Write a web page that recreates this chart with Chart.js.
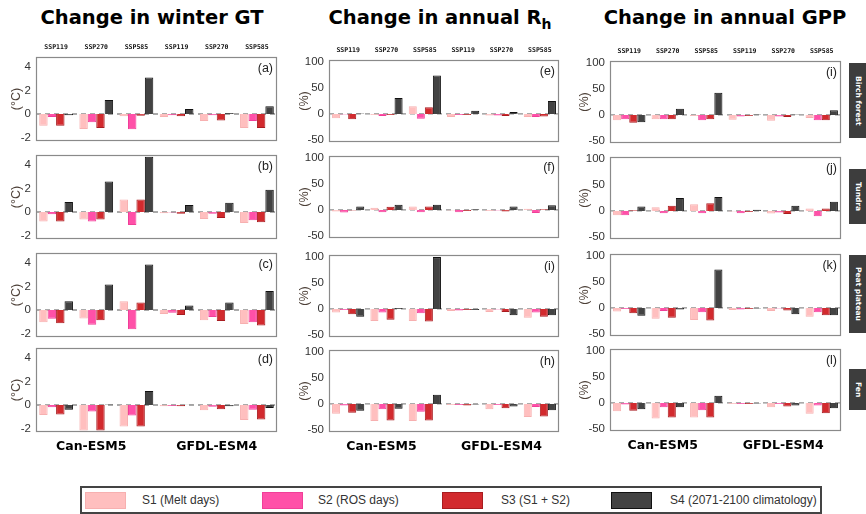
<!DOCTYPE html>
<html>
<head>
<meta charset="utf-8">
<script src="https://cdn.jsdelivr.net/npm/chart.js@4/dist/chart.umd.min.js"></script>
<style>
  html, body { margin: 0; padding: 0; background: #fff; }
  #fig { position: relative; width: 866px; height: 514px; overflow: hidden; font-family: "Liberation Sans", Arial, sans-serif; }
  #fig canvas { position: absolute; }
  .coltitle { position: absolute; top: 6px; transform: translateX(-50%); white-space: nowrap;
              font-family: "DejaVu Sans", sans-serif; font-weight: bold; font-size: 19.5px; line-height: 24px; color: #000; }
  .coltitle sub { font-size: 14px; vertical-align: -5px; line-height: 0; }
  .site { position: absolute; left: 849px; width: 18px; background: #3d3d3d; color: #fff;
          font-family: "DejaVu Sans", sans-serif; font-weight: bold; font-size: 7.5px;
          writing-mode: vertical-rl; display: flex; align-items: center; justify-content: center; }
  #legend { position: absolute; left: 80px; top: 486px; width: 738px; height: 24px; border: 2px solid #444; background: #fff; }
  .sw { position: absolute; top: 4px; width: 39px; height: 15px; }
  .lt { position: absolute; top: 4px; font-size: 12px; line-height: 16px; color: #333; white-space: nowrap; }
</style>
</head>
<body>
<div id="fig">
  <div class="coltitle" style="left:152px">Change in winter GT</div>
  <div class="coltitle" style="left:440px">Change in annual R<sub>h</sub></div>
  <div class="coltitle" style="left:725px">Change in annual GPP</div>
  <div id="legend"></div>
</div>
<script>
// Scenario groups along each panel, the two driving models, experiments and sites
const scenarios = ['SSP119', 'SSP270', 'SSP585', 'SSP119', 'SSP270', 'SSP585'];
const models = ['Can-ESM5', 'GFDL-ESM4'];
const experiments = ['S1 (Melt days)', 'S2 (ROS days)', 'S3 (S1 + S2)', 'S4 (2071-2100 climatology)'];
const sites = ['Birch forest', 'Tundra', 'Peat plateau', 'Fen'];
const gtTicks = [-2, 0, 2, 4];
const pctTicks = [-50, 0, 50, 100];

// Change in winter ground temperature (°C); rows S1..S4, columns follow scenarios
const gtBirch = [
  [-1.0, -1.28, -0.2, -0.25, -0.6, -1.2],
  [-0.25, -0.7, -1.3, -0.1, -0.1, -0.6],
  [-1.0, -1.2, -0.15, -0.2, -0.55, -1.2],
  [-0.1, 1.2, 3.1, 0.43, 0.08, 0.66]
];
const gtTundra = [
  [-0.8, -0.64, 1.07, -0.1, -0.6, -0.93],
  [-0.2, -0.8, -1.1, -0.05, -0.15, -0.7],
  [-0.8, -0.64, 1.07, -0.15, -0.52, -0.87],
  [0.84, 2.6, 4.7, 0.6, 0.78, 1.9]
];
const gtPeat = [
  [-1.04, -0.72, 0.75, -0.35, -0.87, -1.2],
  [-0.75, -1.25, -1.65, -0.23, -0.6, -1.04],
  [-1.13, -0.87, 0.64, -0.43, -0.93, -1.33],
  [0.75, 2.17, 3.88, 0.38, 0.64, 1.62]
];
const gtFen = [
  [-0.86, -2.17, -1.83, -0.1, -0.45, -1.28],
  [-0.2, -0.55, -0.9, -0.08, -0.15, -0.4],
  [-0.8, -2.17, -1.83, -0.1, -0.37, -1.23],
  [-0.4, 0.05, 1.2, 0.03, -0.1, -0.25]
];

// Change in annual heterotrophic respiration (%)
const rhBirch = [
  [-8, -2, 15, -6, -3, -6],
  [-1, -4, -9, -2, -3, -6],
  [-10, -2, 13, -2, -4, -5],
  [1, 31, 74, 6, 4, 25]
];
const rhTundra = [
  [-3, 4.5, 6.5, -1, -2, 2.5],
  [-5, -4.5, -4.5, -4.5, -1, -6],
  [-1, 6, 6.5, -2, -3, 1.5],
  [6.5, 10, 10, 1.5, 6.5, 9]
];
const rhPeat = [
  [-7, -23, -23, -4, -6, -17],
  [-2, -7, -8, -3, -1, -7],
  [-10, -21, -24, -2, -6, -15],
  [-15, 2, 100, -2, -12, -12]
];
const rhFen = [
  [-19, -33, -33, -2, -10, -25],
  [-3, -10, -15, -2, -2, -6],
  [-17, -32, -32, -3, -8, -24],
  [-13, -9, 18, -1, -5, -12]
];

// Change in annual gross primary production (%)
const gppBirch = [
  [-10, -8, -2, -9, -11, -6],
  [-8, -8, -10, -3, -3, -10],
  [-15, -8, -8, -2, -4, -10],
  [-14, 12, 43, 1, 1, 9]
];
const gppTundra = [
  [-8, 7, 13, -1, -5, 5],
  [-8, -4.5, -4.5, -4.5, -3, -10],
  [1.5, 10, 15, -2, -6, 5],
  [8.5, 25, 27, 2.5, 10, 18]
];
const gppPeat = [
  [-7, -21, -23, -4, -6, -17],
  [-2, -6, -8, -3, -1, -8],
  [-10, -19, -24, -2, -5, -14],
  [-15, -3, 74, -1, -12, -14]
];
const gppFen = [
  [-16, -30, -28, -2, -8, -21],
  [-3, -8, -14, -2, -2, -5],
  [-15, -28, -28, -2, -7, -20],
  [-12, -8, 14, -1, -5, -10]
];

// Experiment styling
const fills = ['#ffbfbf', '#ff50a8', '#d22a2e', '#434343'];
const edges = ['#f7b0b0', '#f03f98', '#a81c20', '#111111'];

// Column geometry: plot area left/right, panel tops and height
const columns = [
  { left: 36,  right: 277, tops: [57, 155, 253, 348], h: 84, unit: '(°C)', ticks: gtTicks,  min: -2.3, max: 4.85,
    titleX: 17, tags: ['(a)', '(b)', '(c)', '(d)'], data: [gtBirch, gtTundra, gtPeat, gtFen] },
  { left: 329, right: 559, tops: [60, 156, 255, 350], h: 82, unit: '(%)',  ticks: pctTicks, min: -54, max: 104,
    titleX: 305, tags: ['(e)', '(f)', '(i)', '(h)'], data: [rhBirch, rhTundra, rhPeat, rhFen] },
  { left: 610, right: 841, tops: [61, 157, 254, 349], h: 82, unit: '(%)',  ticks: pctTicks, min: -54, max: 104,
    titleX: 585, tags: ['(i)', '(j)', '(k)', '(l)'], data: [gppBirch, gppTundra, gppPeat, gppFen] }
];
const siteBoxes = [[63, 75], [169, 55], [255, 78], [369, 41]];

const AXIS_W = 36, PAD_T = 16, PAD_B = 26, PAD_R = 2;
const TITLE_SIZE = 12.5;

const panelDecor = {
  id: 'panelDecor',
  beforeDatasetsDraw(chart, args, o) {
    const { ctx, chartArea: a } = chart;
    const y0 = chart.scales.y.getPixelForValue(0);
    ctx.save();
    ctx.strokeStyle = '#8f8f8f';
    ctx.lineWidth = 1.3;
    ctx.setLineDash([5, 4]);
    ctx.beginPath();
    ctx.moveTo(a.left, y0);
    ctx.lineTo(a.right, y0);
    ctx.stroke();
    ctx.restore();
  },
  afterDraw(chart, args, o) {
    const { ctx, chartArea: a } = chart;
    const x = chart.scales.x;
    ctx.save();
    ctx.strokeStyle = '#8a8a8a';
    ctx.lineWidth = 1.2;
    ctx.strokeRect(a.left + 0.5, a.top + 0.5, a.right - a.left - 1, a.bottom - a.top - 1);
    ctx.fillStyle = '#222';
    ctx.font = '12.5px "Liberation Sans", Arial, sans-serif';
    ctx.textAlign = 'right';
    ctx.textBaseline = 'middle';
    ctx.fillText(o.tag, a.right - 4, a.top + 12);
    ctx.textAlign = 'center';
    if (o.scenarioRow) {
      ctx.fillStyle = '#111';
      ctx.font = 'bold 6.5px "DejaVu Sans Mono", monospace';
      scenarios.forEach((s, i) => ctx.fillText(s, x.getPixelForValue(i), a.top - 10));
    }
    if (o.modelRow) {
      ctx.fillStyle = '#000';
      ctx.font = 'bold 12.5px "DejaVu Sans", sans-serif';
      ctx.fillText(models[0], x.getPixelForValue(1) - 5, a.bottom + 15);
      ctx.fillText(models[1], x.getPixelForValue(4), a.bottom + 15);
    }
    ctx.restore();
  }
};

const fig = document.getElementById('fig');

columns.forEach((col) => {
  col.tops.forEach((top, r) => {
    const plotW = col.right - col.left;
    const cv = document.createElement('canvas');
    const w = AXIS_W + plotW + PAD_R;
    const h = PAD_T + col.h + PAD_B;
    cv.width = w; cv.height = h;
    cv.style.left = (col.left - AXIS_W) + 'px';
    cv.style.top = (top - PAD_T) + 'px';
    cv.style.width = w + 'px';
    cv.style.height = h + 'px';
    fig.appendChild(cv);

    const series = col.data[r];
    new Chart(cv, {
      type: 'bar',
      data: {
        labels: scenarios,
        datasets: experiments.map((name, k) => ({
          label: name,
          data: series[k],
          backgroundColor: fills[k],
          borderColor: edges[k],
          borderWidth: 1,
          categoryPercentage: 0.84,
          barPercentage: 1.0
        }))
      },
      options: {
        responsive: false,
        animation: false,
        devicePixelRatio: 1,
        layout: { padding: { top: PAD_T, bottom: PAD_B, left: 0, right: PAD_R } },
        plugins: {
          legend: { display: false },
          tooltip: { enabled: false },
          panelDecor: { tag: col.tags[r], scenarioRow: r === 0, modelRow: r === 3 }
        },
        scales: {
          x: { type: 'category', display: false },
          y: {
            min: col.min,
            max: col.max,
            afterBuildTicks: (s) => { s.ticks = col.ticks.map(v => ({ value: v })); },
            afterFit: (s) => { s.width = AXIS_W; },
            grid: { display: false, drawTicks: false },
            border: { display: false },
            ticks: { padding: 5, color: '#333', font: { family: '"Liberation Sans", Arial, sans-serif', size: 11.5 } },
            title: {
              display: true,
              text: col.unit,
              color: '#4d4038',
              font: { family: '"Liberation Sans", Arial, sans-serif', size: TITLE_SIZE },
              padding: { top: col.titleX - (col.left - AXIS_W) - TITLE_SIZE * 0.6, bottom: 0 }
            }
          }
        }
      },
      plugins: [panelDecor]
    });
  });
});

// Site labels down the right edge
sites.forEach((s, i) => {
  const d = document.createElement('div');
  d.className = 'site';
  d.style.top = siteBoxes[i][0] + 'px';
  d.style.height = siteBoxes[i][1] + 'px';
  d.textContent = s;
  fig.appendChild(d);
});

// Shared legend
const legend = document.getElementById('legend');
const swX = [3, 180, 360, 529];
const txX = [60, 236, 419, 588];
experiments.forEach((name, k) => {
  const sw = document.createElement('div');
  sw.className = 'sw';
  sw.style.left = swX[k] + 'px';
  sw.style.background = fills[k];
  sw.style.border = '1.5px solid ' + edges[k];
  legend.appendChild(sw);
  const t = document.createElement('div');
  t.className = 'lt';
  t.style.left = txX[k] + 'px';
  t.textContent = name;
  legend.appendChild(t);
});
</script>
</body>
</html>
